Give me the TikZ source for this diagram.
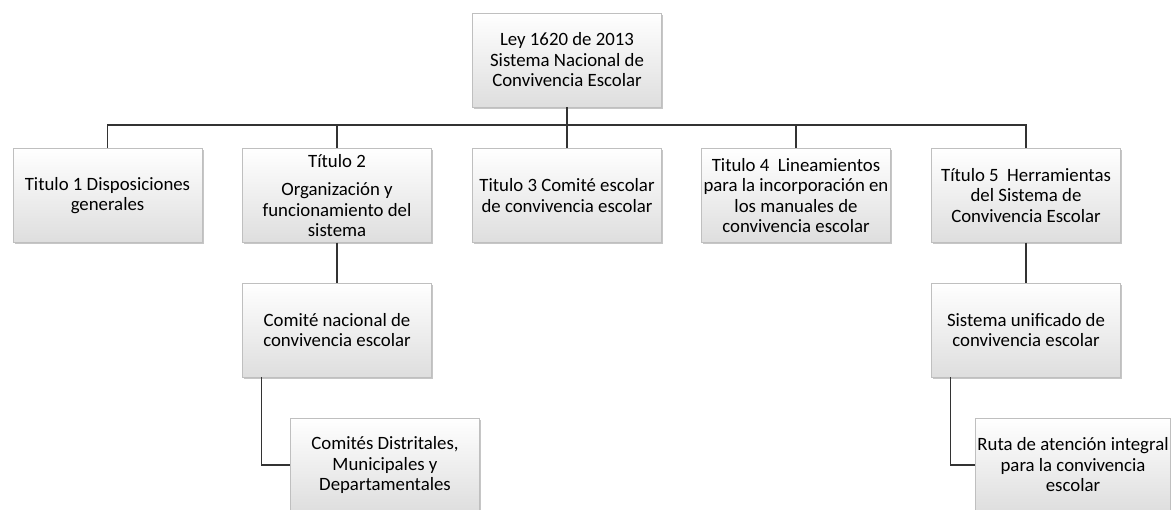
\documentclass[tikz,border=0pt]{standalone}
\usepackage{fontspec}
\setmainfont{Carlito}
\usepackage{tikz}
\usetikzlibrary{shadows}
\usetikzlibrary{calc}
\tikzstyle{bloc}=[
        rectangle,
        draw=black!25,
        top color=white,
        bottom color=black!13,
        minimum width=189pt,
        minimum height=94pt,
        align=center,
        inner sep=2pt,
        font=\fontsize{18.8}{20.5}\selectfont,
        drop shadow={shadow xshift=1.5pt,shadow yshift=-2pt,opacity=0.45}
]
\tikzstyle{lien}=[draw=black!80,line width=1.3pt]

\begin{document}
\begin{tikzpicture}[x=1pt,y=-1pt]
\useasboundingbox (0,0) rectangle (1171,510);
\node[bloc] (ley) at (567,60) {Ley 1620 de 2013\\Sistema Nacional de\\Convivencia Escolar};
\coordinate (bus) at (567,125);
\node[bloc] (t1) at (107.5,195.5) {Titulo 1 Disposiciones\\generales};
\node[bloc] (t2) at (337,195.5) {Título 2\\[8pt]Organización y\\funcionamiento del\\sistema};
\node[bloc] (t3) at (567,195.5) {Titulo 3 Comité escolar\\de convivencia escolar};
\node[bloc] (t4) at (796,195.5) {Titulo 4\ \ Lineamientos\\para la incorporación en\\los manuales de\\convivencia escolar};
\node[bloc] (t5) at (1026,195.5) {Título 5\ \ Herramientas\\del Sistema de\\Convivencia Escolar};
\node[bloc] (cn) at (337,330) {Comité nacional de\\convivencia escolar};
\node[bloc] (cd) at (385,465) {Comités Distritales,\\Municipales y\\Departamentales};
\node[bloc] (su) at (1026,330) {Sistema unificado de\\convivencia escolar};
\node[bloc] (ru) at (1073,465) {Ruta de atención integral\\para la convivencia\\escolar};
%lignes
\draw[lien] (ley) -- (bus);
\draw[lien] (bus) -| (t1);
\draw[lien] (bus) -| (t2);
\draw[lien] (bus) -- (t3);
\draw[lien] (bus) -| (t4);
\draw[lien] (bus) -| (t5);

\draw[lien] (t2) -- (cn);
\draw[lien] ([xshift=19pt]cn.south west) |- (cd.west);

\draw[lien] (t5) -- (su);
\draw[lien] ([xshift=19pt]su.south west) |- (ru.west);
\end{tikzpicture}
\end{document}
